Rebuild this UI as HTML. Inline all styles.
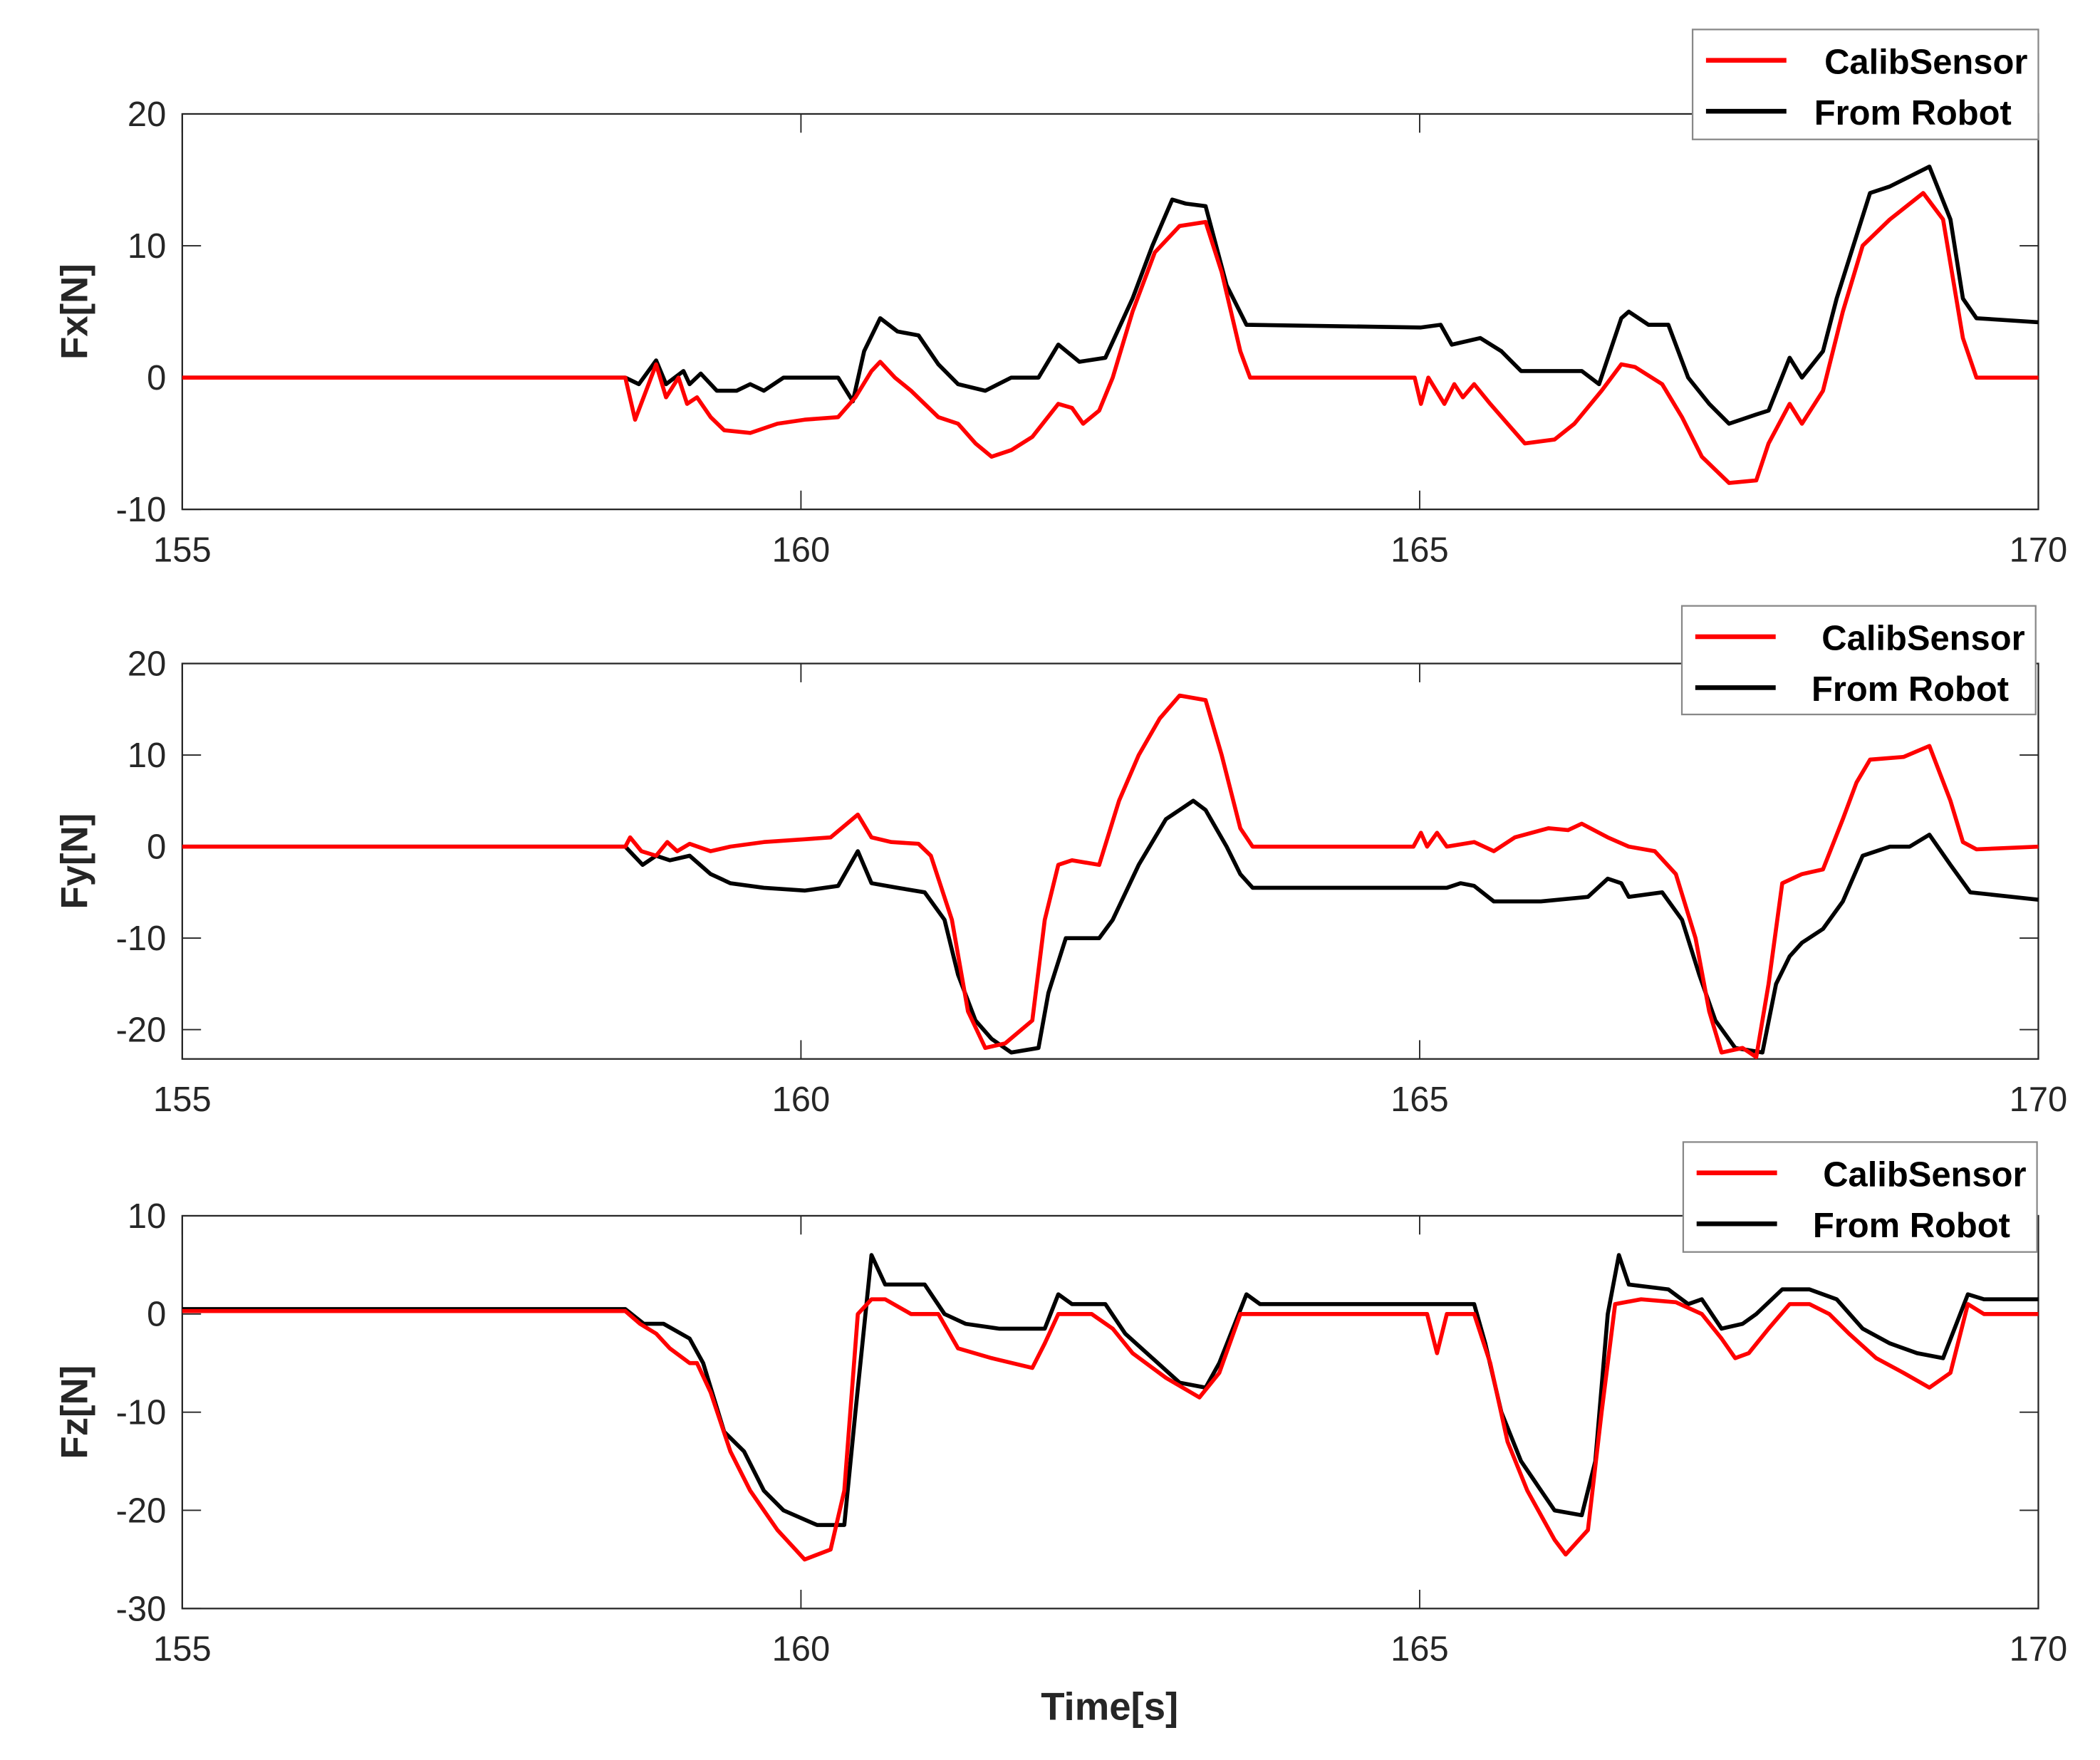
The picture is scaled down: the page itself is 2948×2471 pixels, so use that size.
<!DOCTYPE html>
<html><head><meta charset="utf-8">
<style>
html,body{margin:0;padding:0;background:#fff;}
svg{display:block;}
text{font-family:"Liberation Sans",Arial,sans-serif;}
</style></head>
<body>
<svg id="chart" width="2948" height="2471" viewBox="0 0 1567 1313" preserveAspectRatio="none" xmlns="http://www.w3.org/2000/svg"></svg>
<script>
// ---- data ----
const xTicks = [155, 160, 165, 170];
const fxTicks = [20, 10, 0, -10];
const fyTicks = [20, 10, 0, -10, -20];
const fzTicks = [10, 0, -10, -20, -30];
const seriesNames = ["CalibSensor", "From Robot"];

const fxCalib = [[155,0],[158.58,0],[158.66,-3.2],[158.83,1],[158.91,-1.5],[159.01,0],[159.08,-2],[159.16,-1.5],[159.27,-3],[159.38,-4],[159.59,-4.2],[159.81,-3.5],[160.03,-3.2],[160.30,-3],[160.44,-1.5],[160.57,0.5],[160.64,1.2],[160.76,0],[160.89,-1],[161.11,-3],[161.27,-3.5],[161.41,-5],[161.54,-6],[161.70,-5.5],[161.87,-4.5],[162.08,-2],[162.19,-2.3],[162.28,-3.5],[162.41,-2.5],[162.52,0],[162.68,5],[162.86,9.5],[163.06,11.5],[163.27,11.8],[163.40,8],[163.55,2],[163.63,0],[164.96,0],[165.01,-2],[165.07,0],[165.20,-2],[165.28,-0.5],[165.35,-1.5],[165.44,-0.5],[165.57,-2],[165.71,-3.5],[165.85,-5],[166.09,-4.7],[166.25,-3.5],[166.47,-1],[166.63,1],[166.74,0.8],[166.96,-0.5],[167.12,-3],[167.28,-6],[167.50,-8],[167.72,-7.8],[167.82,-5],[167.99,-2],[168.09,-3.5],[168.26,-1],[168.42,5],[168.58,10],[168.80,12],[169.07,14],[169.23,12],[169.39,3],[169.50,0],[170,0]];
const fxRobot = [[155,0],[158.58,0],[158.69,-0.5],[158.83,1.3],[158.91,-0.5],[159.05,0.5],[159.10,-0.5],[159.19,0.3],[159.32,-1],[159.48,-1],[159.59,-0.5],[159.70,-1],[159.86,0],[160.03,0],[160.30,0],[160.42,-1.8],[160.51,2],[160.64,4.5],[160.78,3.5],[160.95,3.2],[161.11,1],[161.27,-0.5],[161.49,-1],[161.70,0],[161.92,0],[162.08,2.5],[162.25,1.2],[162.46,1.5],[162.68,6],[162.84,10],[163.00,13.5],[163.11,13.2],[163.27,13],[163.44,7],[163.60,4],[165.01,3.8],[165.17,4],[165.26,2.5],[165.49,3],[165.66,2],[165.82,0.5],[166.09,0.5],[166.31,0.5],[166.45,-0.5],[166.63,4.5],[166.69,5],[166.85,4],[167.01,4],[167.17,0],[167.34,-2],[167.50,-3.5],[167.72,-2.8],[167.82,-2.5],[167.99,1.5],[168.09,0],[168.26,2],[168.37,6],[168.64,14],[168.80,14.5],[169.12,16],[169.29,12],[169.39,6],[169.50,4.5],[170,4.2]];

const fyCalib = [[155,0],[158.58,0],[158.62,1],[158.71,-0.5],[158.83,-1],[158.92,0.5],[159.00,-0.5],[159.10,0.3],[159.27,-0.5],[159.43,0],[159.70,0.5],[160.03,0.8],[160.24,1],[160.46,3.5],[160.57,1],[160.73,0.5],[160.95,0.3],[161.05,-1],[161.22,-8],[161.35,-18],[161.49,-22],[161.65,-21.5],[161.87,-19],[161.97,-8],[162.08,-2],[162.19,-1.5],[162.41,-2],[162.57,5],[162.73,10],[162.90,14],[163.06,16.5],[163.27,16],[163.40,10],[163.55,2],[163.65,0],[164.95,0],[165.01,1.5],[165.06,0],[165.14,1.5],[165.22,0],[165.44,0.5],[165.60,-0.5],[165.77,1],[166.04,2],[166.20,1.8],[166.31,2.5],[166.52,1],[166.69,0],[166.90,-0.5],[167.07,-3],[167.23,-10],[167.34,-18],[167.44,-22.5],[167.61,-22],[167.72,-23],[167.82,-15],[167.93,-4],[168.09,-3],[168.26,-2.5],[168.42,3],[168.53,7],[168.64,9.5],[168.91,9.8],[169.12,11],[169.29,5],[169.39,0.5],[169.50,-0.3],[170,0]];
const fyRobot = [[155,0],[158.58,0],[158.72,-2],[158.83,-1],[158.94,-1.5],[159.10,-1],[159.27,-3],[159.43,-4],[159.70,-4.5],[160.03,-4.8],[160.30,-4.3],[160.46,-0.5],[160.57,-4],[160.78,-4.5],[161.00,-5],[161.16,-8],[161.27,-14],[161.41,-19],[161.54,-21],[161.70,-22.5],[161.92,-22],[162.00,-16],[162.14,-10],[162.41,-10],[162.52,-8],[162.73,-2],[162.95,3],[163.17,5],[163.27,4],[163.44,0],[163.55,-3],[163.65,-4.5],[165.22,-4.5],[165.33,-4],[165.44,-4.3],[165.60,-6],[165.98,-6],[166.36,-5.5],[166.52,-3.5],[166.63,-4],[166.69,-5.5],[166.96,-5],[167.12,-8],[167.26,-14],[167.39,-19],[167.55,-22],[167.77,-22.5],[167.88,-15],[167.99,-12],[168.09,-10.5],[168.26,-9],[168.42,-6],[168.58,-1],[168.80,0],[168.96,0],[169.12,1.3],[169.29,-2],[169.45,-5],[170,-5.8]];

const fzCalib = [[155,0.3],[158.58,0.3],[158.70,-1],[158.83,-2],[158.94,-3.5],[159.10,-5],[159.16,-5],[159.27,-8],[159.43,-14],[159.59,-18],[159.81,-22],[160.03,-25],[160.24,-24],[160.35,-18],[160.46,0],[160.57,1.5],[160.68,1.5],[160.89,0],[161.11,0],[161.27,-3.5],[161.54,-4.5],[161.87,-5.5],[161.97,-3],[162.08,0],[162.35,0],[162.52,-1.5],[162.68,-4],[162.95,-6.5],[163.22,-8.5],[163.38,-6],[163.55,0],[165.06,0],[165.14,-4],[165.22,0],[165.44,0],[165.57,-5],[165.71,-13],[165.87,-18],[166.09,-23],[166.18,-24.5],[166.36,-22],[166.47,-10],[166.58,1],[166.79,1.5],[167.07,1.2],[167.28,0],[167.44,-2.5],[167.55,-4.5],[167.66,-4],[167.82,-1.5],[167.99,1],[168.15,1],[168.31,0],[168.47,-2],[168.69,-4.5],[168.91,-6],[169.12,-7.5],[169.29,-6],[169.43,1],[169.56,0],[170,0]];
const fzRobot = [[155,0.5],[158.58,0.5],[158.73,-1],[158.89,-1],[159.10,-2.5],[159.21,-5],[159.38,-12],[159.54,-14],[159.70,-18],[159.86,-20],[160.13,-21.5],[160.35,-21.5],[160.44,-10],[160.57,6],[160.68,3],[161.00,3],[161.16,0],[161.33,-1],[161.60,-1.5],[161.97,-1.5],[162.08,2],[162.19,1],[162.46,1],[162.62,-2],[162.84,-4.5],[163.06,-7],[163.27,-7.5],[163.38,-5],[163.60,2],[163.71,1],[165.12,1],[165.44,1],[165.53,-3],[165.66,-10],[165.82,-15],[166.09,-20],[166.31,-20.5],[166.42,-15],[166.52,0],[166.61,6],[166.69,3],[167.01,2.5],[167.17,1],[167.28,1.5],[167.44,-1.5],[167.61,-1],[167.72,0],[167.93,2.5],[168.15,2.5],[168.37,1.5],[168.58,-1.5],[168.80,-3],[169.02,-4],[169.23,-4.5],[169.43,2],[169.56,1.5],[170,1.5]];

// ---- layout ----
const NS = "http://www.w3.org/2000/svg";
const svg = document.getElementById("chart");
const X0 = 136, X1 = 1521;
function xScale(t){ return X0 + (t - 155) / 15 * (X1 - X0); }
function mk(tag, attrs, parent){
  const e = document.createElementNS(NS, tag);
  for (const k in attrs) e.setAttribute(k, attrs[k]);
  (parent || svg).appendChild(e);
  return e;
}
const panels = [
  {key:"fx", label:"Fx[N]", top:85, bottom:380, vmax:20, vmin:-10, ticks:fxTicks, calib:fxCalib, robot:fxRobot, leg:{x:1263,y:22,w:258,h:82}},
  {key:"fy", label:"Fy[N]", top:495, bottom:790, vmax:20, vmin:-23.2, ticks:fyTicks, calib:fyCalib, robot:fyRobot, leg:{x:1255,y:452,w:264,h:81}},
  {key:"fz", label:"Fz[N]", top:907, bottom:1200, vmax:10, vmin:-30, ticks:fzTicks, calib:fzCalib, robot:fzRobot, leg:{x:1256,y:852,w:264,h:82}}
];
panels.forEach(p => {
  const g = mk("g", {});
  
  
  const yScale = v => p.bottom - (v - p.vmin) / (p.vmax - p.vmin) * (p.bottom - p.top);
  const box = mk("rect", {x:X0, y:p.top, width:X1-X0, height:p.bottom-p.top, fill:"none", stroke:"#262626", "stroke-width":1.2}, g);
  
  
  xTicks.forEach(t => {
    const x = xScale(t);
    mk("line", {x1:x, x2:x, y1:p.bottom, y2:p.bottom-14, stroke:"#262626", "stroke-width":1}, g);
    mk("line", {x1:x, x2:x, y1:p.top, y2:p.top+14, stroke:"#262626", "stroke-width":1}, g);
    const tx = mk("text", {x:x, y:p.bottom+39, "font-size":26, "text-anchor":"middle", fill:"#262626"}, g);
    tx.textContent = t;
    
    
  });
  p.ticks.forEach(v => {
    const y = yScale(v);
    mk("line", {x1:X0, x2:X0+14, y1:y, y2:y, stroke:"#262626", "stroke-width":1}, g);
    mk("line", {x1:X1, x2:X1-14, y1:y, y2:y, stroke:"#262626", "stroke-width":1}, g);
    const ty = mk("text", {x:X0-12, y:y+9, "font-size":26, "text-anchor":"end", fill:"#262626"}, g);
    ty.textContent = v;
    
    
  });
  const cy = (p.top + p.bottom) / 2;
  const yl = mk("text", {x:0, y:0, "font-size":28, "font-weight":"bold", "text-anchor":"middle", fill:"#262626", transform:`translate(65,${cy}) rotate(-90)`}, g);
  yl.textContent = p.label;
  
  
  [[p.robot, "#000000", "robot"], [p.calib, "#ff0000", "calib"]].forEach(([data, col, nm]) => {
    const d = data.map((pt, i) => (i ? "L" : "M") + xScale(pt[0]).toFixed(1) + "," + yScale(pt[1]).toFixed(1)).join("");
    const path = mk("path", {d:d, fill:"none", stroke:col, "stroke-width":3, "stroke-linejoin":"round"}, g);
    
    
  });
  const L = p.leg;
  const lg = mk("g", {}, g);
  
  
  mk("rect", {x:L.x, y:L.y, width:L.w, height:L.h, fill:"#fff", stroke:"#888", "stroke-width":1.2}, lg);
  [["#ff0000", seriesNames[0], 23, L.x + L.w - 8], ["#000000", seriesNames[1], 61, L.x + L.w - 20]].forEach(([col, name, dy, tx], i) => {
    const ln = mk("line", {x1:L.x+10, x2:L.x+70, y1:L.y+dy, y2:L.y+dy, stroke:col, "stroke-width":3.5}, lg);
    
    
    const t = mk("text", {x:tx, y:L.y+dy+10, "font-size":26, "font-weight":"bold", "text-anchor":"end", fill:"#000"}, lg);
    t.textContent = name;
    
    
  });
});
const xt = mk("text", {x:828, y:1283, "font-size":29, "font-weight":"bold", "text-anchor":"middle", fill:"#262626"});
xt.textContent = "Time[s]";


</script>
</body></html>
